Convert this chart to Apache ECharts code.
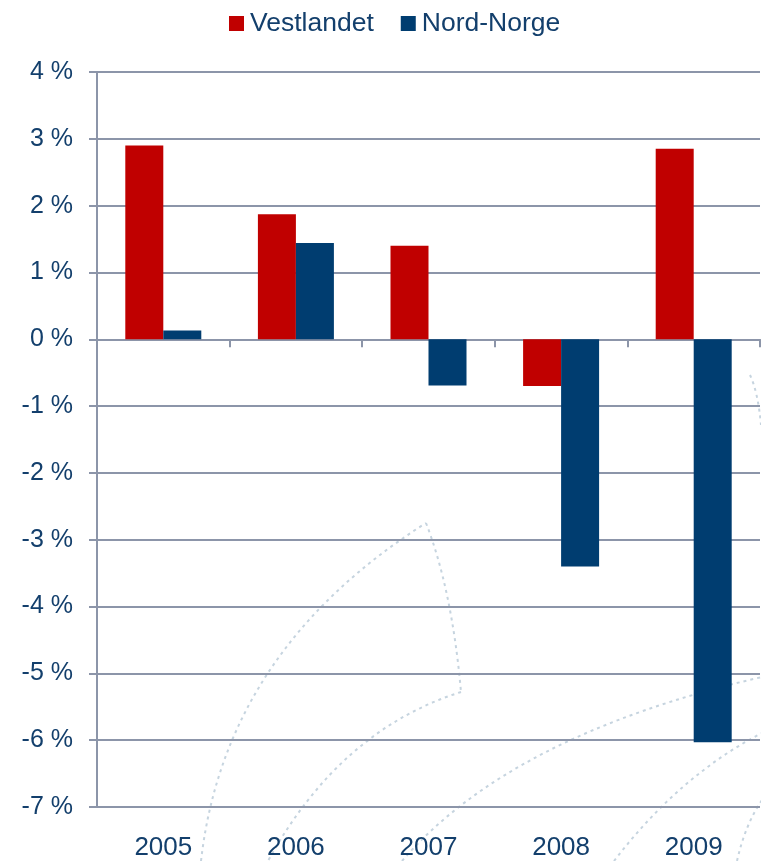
<!DOCTYPE html>
<html>
<head>
<meta charset="utf-8">
<title>Vestlandet og Nord-Norge</title>
<script src="https://cdn.jsdelivr.net/npm/echarts@6/dist/echarts.min.js"></script>
<style>
  html, body { margin: 0; padding: 0; background: #ffffff; }
  #chart { width: 761px; height: 861px; }
</style>
</head>
<body>
<div id="chart"></div>
<script>
// Years on the category axis
const years = ['2005', '2006', '2007', '2008', '2009'];
// Annual change, percent
const vestlandet = [2.90, 1.87, 1.40, -0.70, 2.85];
const nordNorge = [0.13, 1.44, -0.69, -3.40, -6.03];
// Value axis range and step, percent
const yMin = -7;
const yMax = 4;
const yStep = 1;

const textColor = '#133f6c';
const lineColor = '#8c95a9';
const fontFamily = '"Liberation Sans", Arial, sans-serif';

// Faint dashed background ornament (decorative only)
const ornamentStyle = { stroke: '#c6d4df', lineWidth: 2, lineDash: [3, 4], fill: null };
const ornament = [
  [201, 861, 225, 650, 426, 523],
  [426, 523, 452, 590, 461, 692],
  [461, 692, 340, 730, 268, 861],
  [402, 861, 510, 735, 762, 677],
  [614, 861, 680, 775, 762, 733],
  [737, 861, 745, 825, 762, 800],
  [750, 375, 758, 392, 761, 425]
].map(function (c) {
  return {
    type: 'bezierCurve',
    z: -10,
    silent: true,
    shape: { x1: c[0], y1: c[1], cpx1: c[2], cpy1: c[3], x2: c[4], y2: c[5] },
    style: ornamentStyle
  };
});

const chart = echarts.init(document.getElementById('chart'), null, { renderer: 'canvas' });

chart.setOption({
  animation: false,
  backgroundColor: '#ffffff',
  textStyle: { fontFamily: fontFamily },
  graphic: ornament,
  legend: {
    top: 5,
    left: 224,
    itemWidth: 15,
    itemHeight: 15,
    itemGap: 27,
    icon: 'rect',
    itemStyle: { borderWidth: 0 },
    textStyle: { color: textColor, fontSize: 26.5, fontFamily: fontFamily, padding: [0, 0, 0, 1] },
    data: ['Vestlandet', 'Nord-Norge']
  },
  grid: {
    left: 97,
    top: 72,
    width: 663,
    height: 735,
    containLabel: false
  },
  xAxis: [
    {
      // labels along the bottom edge
      type: 'category',
      data: years,
      position: 'bottom',
      axisLine: { show: false, onZero: false },
      axisTick: { show: false },
      axisLabel: { color: textColor, fontSize: 26, margin: 28, fontFamily: fontFamily },
      splitLine: { show: false }
    },
    {
      // zero line with category ticks
      type: 'category',
      data: years,
      position: 'bottom',
      axisLine: { show: true, onZero: true, lineStyle: { color: lineColor, width: 2 } },
      axisTick: { show: true, length: 8, inside: false, lineStyle: { color: lineColor, width: 2 } },
      axisLabel: { show: false },
      splitLine: { show: false }
    }
  ],
  yAxis: {
    type: 'value',
    min: yMin,
    max: yMax,
    interval: yStep,
    axisLine: { show: true, lineStyle: { color: lineColor, width: 2 } },
    axisTick: { show: true, length: 8, lineStyle: { color: lineColor, width: 2 } },
    axisLabel: {
      color: textColor,
      fontSize: 25,
      margin: 24,
      fontFamily: fontFamily,
      formatter: function (v) { return v + ' %'; }
    },
    splitLine: { show: true, lineStyle: { color: lineColor, width: 2 } }
  },
  series: [
    {
      name: 'Vestlandet',
      type: 'bar',
      xAxisIndex: 0,
      data: vestlandet,
      barWidth: 38,
      barGap: '0%',
      itemStyle: { color: '#c00000' }
    },
    {
      name: 'Nord-Norge',
      type: 'bar',
      xAxisIndex: 0,
      data: nordNorge,
      barWidth: 38,
      barGap: '0%',
      itemStyle: { color: '#003d70' }
    }
  ]
});
</script>
</body>
</html>
